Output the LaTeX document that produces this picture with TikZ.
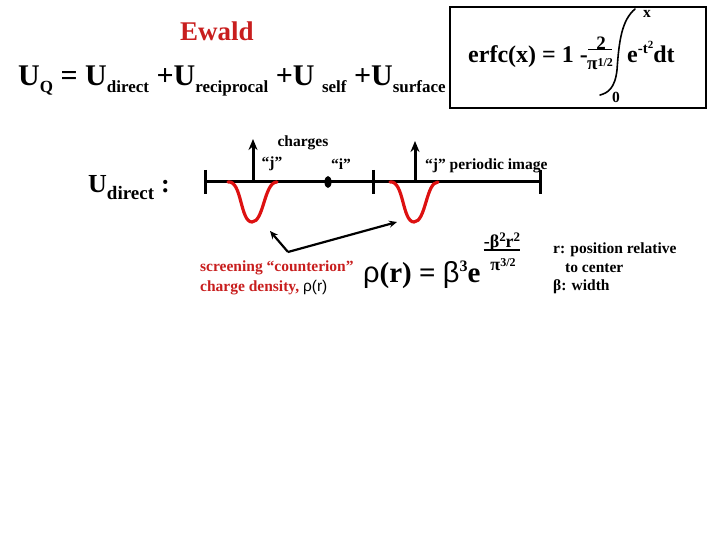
\documentclass[tikz,border=0pt]{standalone}
\usepackage{fontspec}
\setmainfont{Liberation Serif}
\newfontfamily\symf{Liberation Sans}
\usetikzlibrary{arrows.meta,positioning,calc,shapes.geometric}
\definecolor{ewred}{HTML}{C81E1E}
\definecolor{wellred}{HTML}{DD1111}
\newcommand{\fs}[1]{\fontsize{#1}{#1}\selectfont}
\newcommand{\usub}[2][17]{\raisebox{-7pt}{\fs{#1}#2}}
\tikzset{
  bigtxt/.style={font=\fs{30}\bfseries, inner sep=0pt},
  smalltxt/.style={font=\fs{15.5}\bfseries, inner sep=0pt, align=left},
  axisline/.style={line width=3pt},
  well/.style={draw=wellred, line width=3.2pt, line cap=round},
  arr/.style={-{Stealth[length=11pt,width=9pt]}, line width=3pt},
  tarr/.style={-{Stealth[length=8pt,width=7pt]}, line width=2.2pt}}

\begin{document}
\begin{tikzpicture}[x=1pt,y=-1pt]
  \useasboundingbox (0,0) rectangle (720,540);

  % energy split
  \node[font=\fs{27}\bfseries, text=ewred, inner sep=0pt] (ewald) at (217,31) {Ewald};
  \node[bigtxt, anchor=base west] (uq) at (18,86)
    {U\usub{Q} = U\usub{direct} +U\usub{reciprocal} +U \usub{self} +U\usub{surface}};

  % erfc box
  \node[draw, line width=2.2pt, minimum width=256pt, minimum height=101pt, inner sep=0pt] (erfcbox) at (578,57.5) {};
  \node[font=\fs{24}\bfseries, anchor=base west, inner sep=0pt] (erfc) at (468,63) {erfc(x) = 1 -};
  \node[font=\fs{19}\bfseries, inner sep=0pt] (two) at (601,43) {2};
  \node[font=\fs{19}\bfseries, inner sep=0pt] (pihalf) at (600,64) {π\raisebox{3pt}{\fs{12}1/2}};
  \draw[line width=1.4pt] (two.south -| 588,0) -- (two.south -| 612,0);
  \draw[line width=1.6pt, line cap=round] (635,9) .. controls (622,20) and (619,40) .. (617,70)
    .. controls (615,88) and (608,93) .. (600,95);
  \node[smalltxt] (upper) at (647,14) {x};
  \node[smalltxt] (lower) at (616,97) {0};
  \node[font=\fs{24}\bfseries, anchor=base west, inner sep=0pt] (integrand) at (627,63)
    {e\raisebox{9pt}{\fs{15}-t\raisebox{5pt}{\fs{11}2}}dt};

  % direct part
  \node[font=\fs{26}\bfseries, anchor=base west, inner sep=0pt] (udir) at (88,193) {U\usub[19]{direct}\hspace{7pt}:};
  \coordinate (a0) at (205,182);
  \coordinate (a1) at (373,182);
  \coordinate (a2) at (540,182);
  \draw[axisline] (a0) -- (a2);
  \foreach \t in {a0,a1,a2}
    \draw[axisline] ([yshift=12pt]\t) -- ([yshift=-12pt]\t);

  \coordinate (jpos) at (253,182);
  \coordinate (jtop) at (253,139);
  \coordinate (jimg) at (415,182);
  \coordinate (jimgtop) at (415,141);
  \draw[arr] (jpos) -- (jtop);
  \draw[arr] (jimg) -- (jimgtop);
  \node[fill, ellipse, inner sep=0pt, minimum width=7pt, minimum height=12pt] (idot) at (328,182) {};

  \node[smalltxt] (charges) at (303,143) {charges};
  \node[smalltxt] (jlbl) at (272,164) {“j”};
  \node[smalltxt] (ilbl) at (341,164) {“i”};
  \node[smalltxt, anchor=west] (imglbl) at (425,166) {“j” periodic image};

  % screening charge
  \draw[well] (228,182) .. controls (242,180) and (240,222) .. (252,222)
    .. controls (264,222) and (264,182) .. (277,182);
  \draw[well] (390,182) .. controls (404,180) and (402,222) .. (414,222)
    .. controls (426,222) and (426,182) .. (438,182);

  \coordinate (bend) at (288,252);
  \coordinate (tipA) at (270,231);
  \coordinate (tipB) at (397,222);
  \draw[tarr] (bend) -- (tipA);
  \draw[tarr] (bend) -- (tipB);

  \node[smalltxt, anchor=west, text=ewred, align=left] (scr) at (200,278)
    {screening “counterion”\\[5pt]charge density, {\symf\mdseries\color{black}ρ(r)}};

  \node[anchor=base west, inner sep=0pt] (rho) at (363,282)
    {{\symf\fs{29}ρ}{\fs{29}\bfseries(r) = }{\symf\fs{29}β}\raisebox{11pt}{\fs{16}\bfseries 3}{\fs{29}\bfseries e}};
  \node[font=\fs{18}\bfseries, inner sep=0pt] (num) at (502,242) {-β\raisebox{6pt}{\fs{13}2}r\raisebox{6pt}{\fs{13}2}};
  \node[font=\fs{18}\bfseries, inner sep=0pt] (den) at (503,265) {π\raisebox{4pt}{\fs{12}3/2}};
  \draw[line width=1.4pt] (num.south west) ++(0,-1.5) coordinate (barL) -- (barL -| num.south east);

  \node[smalltxt, anchor=north west] (legend) at (553,243)
    {r: position relative\\[3pt]\hspace*{12pt}to center\\[3pt]β: width};
\end{tikzpicture}
\end{document}
